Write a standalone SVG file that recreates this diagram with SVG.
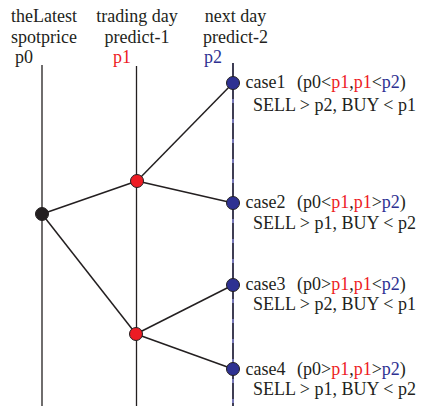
<svg xmlns="http://www.w3.org/2000/svg" width="424" height="406" viewBox="0 0 424 406">
<style>
text { font-family: "Liberation Serif", "Times New Roman", serif; font-size: 18px; fill: #231f20; }
.r { fill: #ed1c24; }
.b { fill: #2e3192; }
.mid { text-anchor: middle; }
.axis { stroke: #231f20; stroke-width: 1.3; fill: none; }
.axisb { stroke: #2e3192; stroke-width: 1.3; fill: none; }
.dash { stroke: #231f20; stroke-width: 1.3; stroke-dasharray: 16 4; fill: none; }
.edge { stroke: #231f20; stroke-width: 1.5; fill: none; }
.n0 { fill: #231f20; stroke: #231f20; stroke-width: 1; }
.n1 { fill: #ed1c24; stroke: #231f20; stroke-width: 1; }
.n2 { fill: #2e3192; stroke: #231f20; stroke-width: 1; }
</style>
<rect width="424" height="406" fill="#ffffff"/>
<g id="headers">
  <text class="mid" x="44" y="21.5">theLatest</text>
  <text class="mid" x="44" y="42.5">spotprice</text>
  <text x="15" y="62.5">p0</text>
  <text class="mid" x="137" y="21.5">trading day</text>
  <text class="mid" x="137" y="42.5">predict-1</text>
  <text class="r" x="113" y="62.5">p1</text>
  <text class="mid" x="235.5" y="21.5">next day</text>
  <text class="mid" x="235.5" y="42.5">predict-2</text>
  <text class="b" x="204" y="62.5">p2</text>
</g>
<g id="connectors">
  <line class="axis" x1="42" y1="65" x2="42" y2="406"/>
  <line class="axis" x1="136.5" y1="66" x2="136.5" y2="406"/>
  <line class="axisb" x1="233" y1="63" x2="233" y2="406"/>
  <line class="dash" x1="233" y1="63" x2="233" y2="406"/>
  <line class="edge" x1="42" y1="214" x2="137" y2="181"/>
  <line class="edge" x1="42" y1="214" x2="136" y2="334"/>
  <line class="edge" x1="137" y1="181" x2="233" y2="83"/>
  <line class="edge" x1="137" y1="181" x2="233" y2="203"/>
  <line class="edge" x1="136" y1="334" x2="233" y2="285"/>
  <line class="edge" x1="136" y1="334" x2="233" y2="369"/>
</g>
<g id="p0"><circle class="n0" cx="42" cy="214" r="6.5"/></g>
<g id="p1-up"><circle class="n1" cx="137" cy="181" r="6.5"/></g>
<g id="p1-down"><circle class="n1" cx="136" cy="334" r="6.5"/></g>
<g id="case1">
  <circle class="n2" cx="233" cy="83" r="6.5"/>
  <text x="245.5" y="88">case1</text>
  <text x="297" y="88">(p0&lt;<tspan class="r">p1</tspan>,<tspan class="r">p1</tspan>&lt;<tspan class="b">p2</tspan>)</text>
  <text x="253" y="111">SELL &gt; p2, BUY &lt; p1</text>
</g>
<g id="case2">
  <circle class="n2" cx="233" cy="203" r="6.5"/>
  <text x="245.5" y="208">case2</text>
  <text x="297" y="208">(p0&lt;<tspan class="r">p1</tspan>,<tspan class="r">p1</tspan>&gt;<tspan class="b">p2</tspan>)</text>
  <text x="253" y="229">SELL &gt; p1, BUY &lt; p2</text>
</g>
<g id="case3">
  <circle class="n2" cx="233" cy="285" r="6.5"/>
  <text x="245.5" y="290">case3</text>
  <text x="297" y="290">(p0&gt;<tspan class="r">p1</tspan>,<tspan class="r">p1</tspan>&lt;<tspan class="b">p2</tspan>)</text>
  <text x="253" y="310">SELL &gt; p2, BUY &lt; p1</text>
</g>
<g id="case4">
  <circle class="n2" cx="233" cy="369" r="6.5"/>
  <text x="245.5" y="375">case4</text>
  <text x="297" y="375">(p0&gt;<tspan class="r">p1</tspan>,<tspan class="r">p1</tspan>&gt;<tspan class="b">p2</tspan>)</text>
  <text x="253" y="395">SELL &gt; p1, BUY &lt; p2</text>
</g>
</svg>
